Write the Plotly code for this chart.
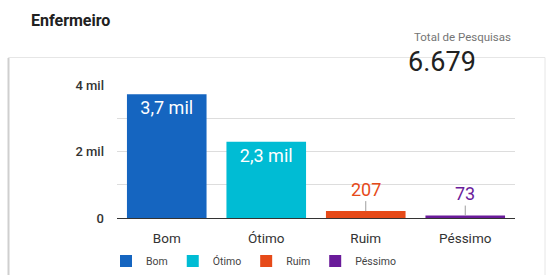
import plotly.graph_objects as go

categories = ["Bom", "Ótimo", "Ruim", "Péssimo"]
values = [3725, 2290, 207, 73]
labels = ["3,7 mil", "2,3 mil", "207", "73"]
colors = ["#1565C0", "#00BCD4", "#E64A19", "#6A1B9A"]
inside_label = [True, True, False, False]
tick_vals = [0, 2000, 4000]
tick_text = ["0", "2 mil", "4 mil"]
title = "Enfermeiro"
total_label = "Total de Pesquisas"
total_value = "6.679"

W, H = 550, 275
L, R, T, B = 117, 35, 85, 57
pw, ph = W - L - R, H - T - B

def px_x(px):
    return (px - L) / pw

def px_y(py):
    return (H - B - py) / ph

fig = go.Figure()
for cat, v, lab, col, ins in zip(categories, values, labels, colors, inside_label):
    fig.add_trace(go.Bar(
        x=[cat], y=[v], name=cat, marker=dict(color=col, line=dict(width=0)),
        text=[lab] if ins else None,
        textposition="inside", insidetextanchor="end",
        textfont=dict(color="white", size=18, family="Roboto"),
        hoverinfo="skip",
    ))
    if not ins:
        fig.add_annotation(
            x=cat, y=v, xref="x", yref="y", text=lab, showarrow=True,
            arrowhead=0, arrowwidth=1, arrowcolor="#9e9e9e", ax=0, ay=-22,
            font=dict(color=col, size=18, family="Roboto"),
        )

fig.add_shape(type="rect", xref="paper", yref="paper",
              x0=px_x(8.5), x1=px_x(545), y0=px_y(57.5), y1=px_y(290),
              line=dict(color="#e6e6e6", width=1), fillcolor="rgba(0,0,0,0)", layer="below")
fig.add_shape(type="line", xref="paper", yref="paper",
              x0=px_x(8.5), x1=px_x(8.5), y0=px_y(58), y1=px_y(290),
              line=dict(color="#cfcfcf", width=2), layer="below")

fig.add_annotation(xref="paper", yref="paper", x=px_x(29), y=px_y(20), text="<b>" + title + "</b>",
                   showarrow=False, xanchor="left", yanchor="middle",
                   font=dict(size=16, color="#212121", family="Roboto"))
fig.add_annotation(xref="paper", yref="paper", x=px_x(513), y=px_y(37), text=total_label,
                   showarrow=False, xanchor="right", yanchor="middle",
                   font=dict(size=11.5, color="#757575", family="Roboto"))
fig.add_annotation(xref="paper", yref="paper", x=px_x(442), y=px_y(62), text=total_value,
                   showarrow=False, xanchor="center", yanchor="middle",
                   font=dict(size=27, color="#212121", family="Roboto"))

fig.update_layout(
    width=W, height=H, margin=dict(l=L, r=R, t=T, b=B, autoexpand=False),
    paper_bgcolor="white", plot_bgcolor="white",
    barmode="overlay", bargap=0.2,
    font=dict(family="Roboto", color="#333333"),
    showlegend=True,
    legend=dict(orientation="h", x=px_x(106), y=px_y(261), xanchor="left", yanchor="middle",
                font=dict(size=10.5, color="#444444"), itemclick=False, itemdoubleclick=False,
                traceorder="normal"),
    xaxis=dict(showgrid=False, showline=False, ticks="", tickfont=dict(size=13.5, color="#333333"),
               ticklabelstandoff=10, fixedrange=True),
    yaxis=dict(range=[0, 4000], tickvals=tick_vals, ticktext=tick_text, showgrid=True,
               gridcolor="#dddddd", gridwidth=1, zeroline=True, zerolinecolor="#333333", zerolinewidth=1,
               tickfont=dict(size=13, color="#333333", weight=500), ticklabelstandoff=12,
               minor=dict(dtick=1000, showgrid=True, gridcolor="#dddddd", gridwidth=1),
               fixedrange=True),
)

fig.write_html("out.html", config={"displayModeBar": False},
               post_script="document.body.style.margin='0';document.body.style.overflow='hidden';")
